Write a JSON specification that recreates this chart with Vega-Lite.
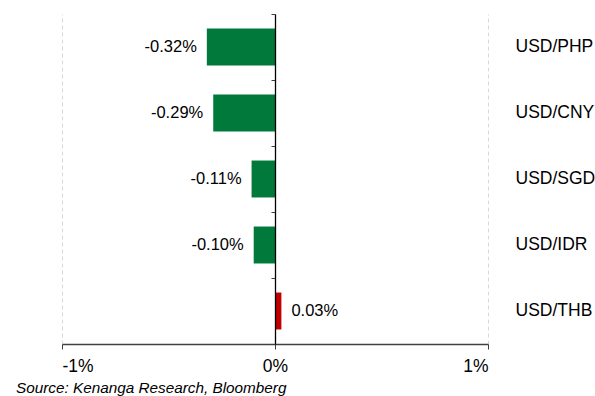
{
  "$schema": "https://vega.github.io/schema/vega-lite/v6.json",
  "width": 426,
  "height": 330,
  "autosize": {"type": "none"},
  "padding": {"left": 62, "top": 14, "right": 107, "bottom": 52},
  "background": "white",
  "config": {
    "view": {"stroke": null},
    "font": "Liberation Sans",
    "axis": {"labelFont": "Liberation Sans", "labelColor": "#000"}
  },
  "title": {
    "text": "Source: Kenanga Research, Bloomberg",
    "orient": "bottom",
    "anchor": "start",
    "frame": "group",
    "dx": -46,
    "offset": 6,
    "font": "Liberation Sans",
    "fontStyle": "italic",
    "fontWeight": "normal",
    "fontSize": 15.3,
    "color": "#000"
  },
  "data": {
    "values": [
      {"pair": "USD/PHP", "value": -0.32, "label": "-0.32%"},
      {"pair": "USD/CNY", "value": -0.29, "label": "-0.29%"},
      {"pair": "USD/SGD", "value": -0.11, "label": "-0.11%"},
      {"pair": "USD/IDR", "value": -0.10, "label": "-0.10%"},
      {"pair": "USD/THB", "value": 0.03, "label": "0.03%"}
    ]
  },
  "encoding": {
    "y": {
      "field": "pair",
      "type": "nominal",
      "sort": ["USD/PHP", "USD/CNY", "USD/SGD", "USD/IDR", "USD/THB"],
      "scale": {"paddingInner": 0, "paddingOuter": 0}
    },
    "x": {
      "field": "value",
      "type": "quantitative",
      "scale": {"domain": [-1, 1], "nice": false},
      "axis": {
        "values": [-1, 0, 1],
        "labelExpr": "datum.value + '%'",
        "title": null,
        "grid": true,
        "gridColor": "#d9d9d9",
        "gridDash": [4, 3],
        "gridWidth": 1,
        "domainColor": "#404040",
        "domainWidth": 1.3,
        "tickColor": "#404040",
        "tickSize": 5,
        "labelPadding": 8,
        "labelFontSize": 17.5,
        "labelFont": "Liberation Sans",
        "labelColor": "#000"
      }
    }
  },
  "layer": [
    {
      "mark": {"type": "bar", "height": {"band": 0.56}},
      "encoding": {
        "y": {
          "field": "pair",
          "type": "nominal",
          "sort": ["USD/PHP", "USD/CNY", "USD/SGD", "USD/IDR", "USD/THB"],
          "axis": {
            "orient": "left",
            "offset": -213,
            "labels": false,
            "title": null,
            "tickBand": "extent",
            "tickSize": 4,
            "tickColor": "#404040",
            "domainColor": "#000",
            "domainWidth": 1.3,
            "zindex": 2
          }
        },
        "color": {
          "condition": {"test": "datum.value < 0", "value": "#00793A"},
          "value": "#C00000"
        }
      }
    },
    {
      "mark": {
        "type": "text",
        "fontSize": 16.5,
        "font": "Liberation Sans",
        "color": "#000",
        "align": {"expr": "datum.value < 0 ? 'right' : 'left'"},
        "dx": {"expr": "datum.value < 0 ? -10 : 10"},
        "baseline": "middle"
      },
      "encoding": {
        "y": {
          "field": "pair",
          "type": "nominal",
          "sort": ["USD/PHP", "USD/CNY", "USD/SGD", "USD/IDR", "USD/THB"],
          "axis": {
            "orient": "right",
            "title": null,
            "domain": false,
            "ticks": false,
            "tickSize": 0,
            "labelPadding": 27,
            "labelFontSize": 17.5,
            "labelAlign": "left",
            "labelFont": "Liberation Sans",
            "labelColor": "#000"
          }
        },
        "text": {"field": "label", "type": "nominal"}
      }
    }
  ],
  "resolve": {"axis": {"y": "independent"}}
}
